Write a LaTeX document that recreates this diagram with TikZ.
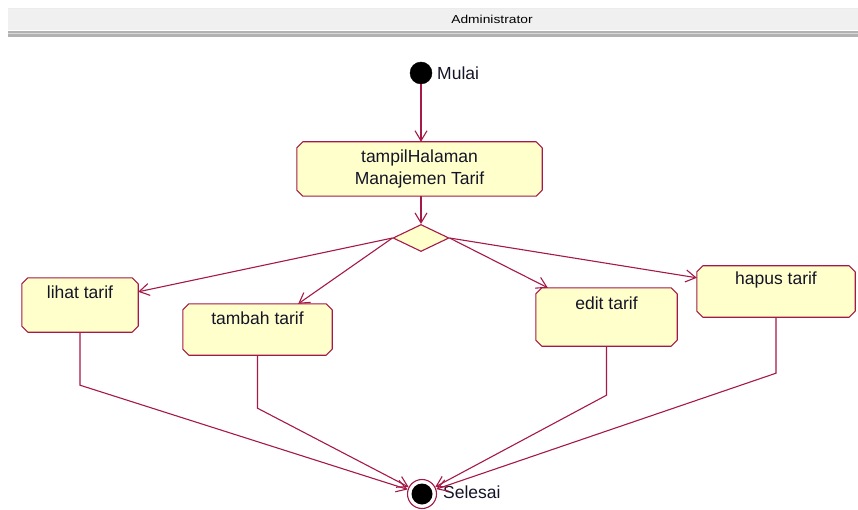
\documentclass[tikz,border=0pt]{standalone}
\usepackage{fontspec}
\setmainfont{Liberation Sans}
\newfontfamily\hdrfont[FakeStretch=1.2]{Liberation Sans}
\usetikzlibrary{shapes.geometric,arrows.meta,calc}
\definecolor{uml}{RGB}{165,25,70}
\definecolor{umlfill}{RGB}{255,255,204}
\definecolor{txt}{RGB}{20,20,40}
\tikzset{
  act/.style={rectangle, draw=none, inner sep=0pt},
  boxline/.style={draw=uml, fill=umlfill, line width=1.1pt, line join=round},
  lbl/.style={font=\fontsize{17.5}{22}\selectfont, text=txt, inner sep=0pt, align=center},
  arr/.style={draw=uml, line width=1.1pt, -{Straight Barb[length=10pt,width=12pt,line width=1.1pt]}},
}
\newcommand\octbox[1]{%
  \filldraw[boxline] ($(#1.north west)+(6,0)$) -- ($(#1.north east)+(-6,0)$) -- ($(#1.north east)+(0,6)$)
    -- ($(#1.south east)+(0,-6)$) -- ($(#1.south east)+(-6,0)$) -- ($(#1.south west)+(6,0)$)
    -- ($(#1.south west)+(0,-6)$) -- ($(#1.north west)+(0,6)$) -- cycle;}
\begin{document}
\begin{tikzpicture}[x=1pt,y=-1pt]
\useasboundingbox (0,0) rectangle (858,510);
% header
\fill[gray!12] (8,8) rectangle (858,30);
\draw[white!92!black, line width=0.8pt] (8,8.5) -- (858,8.5);
\fill[gray!60] (8,31) rectangle (858,37);
\draw[gray!30, line width=1pt] (8,34) -- (858,34);
\node[font=\hdrfont\fontsize{11.5}{13}\selectfont, text=black, inner sep=0pt] (hdr) at (492,19) {Administrator};

% start
\node[circle, fill=black, draw=black, minimum size=22pt, inner sep=0pt] (start) at (421,73) {};
\node[lbl, anchor=west] (mulai) at (437,73) {Mulai};

% main activity
\node[act, minimum width=245pt, minimum height=54pt] (tampil) at (419.5,169) {};
\octbox{tampil}
\node[lbl] (tampilT) at (419.5,169) {tampilHalaman\\Manajemen Tarif};

% decision
\node[diamond, draw=uml, fill=umlfill, line width=1.1pt, minimum width=56pt, minimum height=27pt, inner sep=0pt] (dec) at (421,238) {};

% activities
\node[act, minimum width=116pt, minimum height=54pt] (lihat) at (80,305) {};
\octbox{lihat}
\node[lbl] (lihatT) at (80,292) {lihat tarif};
\node[act, minimum width=149pt, minimum height=51pt] (tambah) at (257.5,329.5) {};
\octbox{tambah}
\node[lbl] (tambahT) at (257.5,318) {tambah tarif};
\node[act, minimum width=141pt, minimum height=58pt] (edit) at (606.5,317) {};
\octbox{edit}
\node[lbl] (editT) at (606.5,303) {edit tarif};
\node[act, minimum width=158pt, minimum height=51pt] (hapus) at (776,291.5) {};
\octbox{hapus}
\node[lbl] (hapusT) at (776,280) {hapus tarif};

% end
\node[circle, draw=uml, fill=white, line width=1.1pt, minimum size=29pt, inner sep=0pt] (end) at (422,494) {};
\node[circle, fill=black, minimum size=21pt, inner sep=0pt] (endin) at (422,494) {};
\node[lbl, anchor=west] (selesai) at (443,492) {Selesai};

% connectors
\draw[arr] (start.south) -- (start.south |- tampil.north);
\draw[arr] (dec.north |- tampil.south) -- (dec.north);
\draw[arr] (dec.west) -- ($(lihat.north east)+(0,14)$);
\draw[arr] (dec.west) -- ($(tambah.north east)+(-34,0)$);
\draw[arr] (dec.east) -- ($(edit.north west)+(12,0)$);
\draw[arr] (dec.east) -- ($(hapus.north west)+(0,12)$);

\draw[arr] (lihat.south) -- ++(0,53) -- (end);
\draw[arr] (tambah.south) -- ++(0,53) -- (end);
\draw[arr] (edit.south) -- ++(0,49) -- (end);
\draw[arr] (hapus.south) -- ++(0,56) -- (end);
\end{tikzpicture}
\end{document}
